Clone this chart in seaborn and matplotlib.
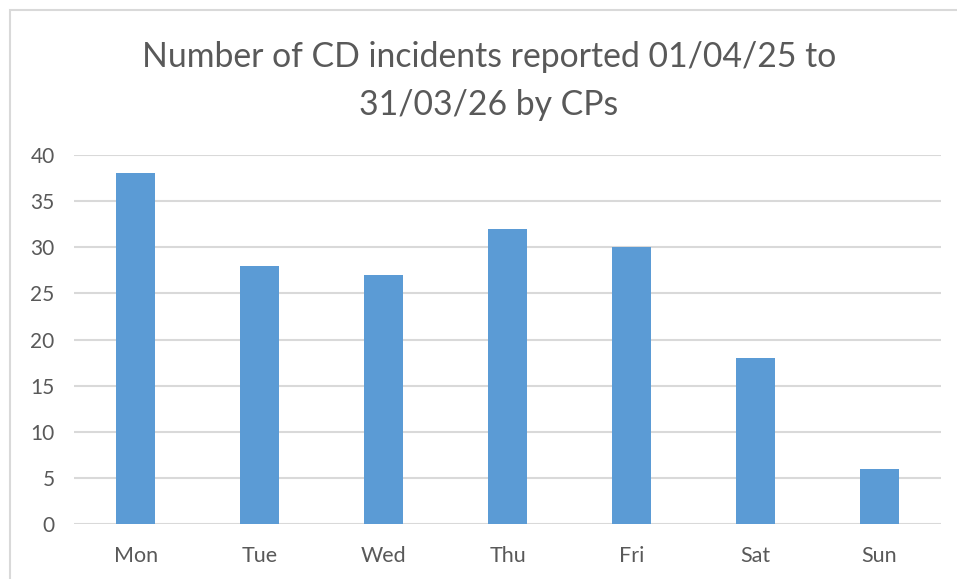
import pandas as pd
import seaborn as sns
import matplotlib.pyplot as plt
from matplotlib.patches import Rectangle

# DATA
days = ["Mon", "Tue", "Wed", "Thu", "Fri", "Sat", "Sun"]
incidents = [38, 28, 27, 32, 30, 18, 6]
title = "Number of CD incidents reported 01/04/25 to\n31/03/26 by CPs"

df = pd.DataFrame({"Day": days, "Incidents": incidents})

# STYLE
sns.set_theme(style="white")
plt.rcParams["font.family"] = ["Lato", "DejaVu Sans"]
grey = "#595959"

fig = plt.figure(figsize=(9.57, 5.79), dpi=100)
ax = fig.add_axes([74 / 957, 1 - 524 / 579, (941 - 74) / 957, (524 - 155) / 579])

sns.barplot(data=df, x="Day", y="Incidents", color="#5b9bd5",
            width=0.315, saturation=1, linewidth=0, ax=ax, zorder=3)

ax.set_ylim(0, 40)
ax.set_xlim(-0.5, len(days) - 0.5)
ax.set_yticks(range(0, 41, 5))
ax.yaxis.grid(True, color="#d9d9d9", linewidth=1.5, zorder=0)
ax.set_axisbelow(True)
for s in ax.spines.values():
    s.set_visible(False)
ax.tick_params(axis="both", length=0, labelsize=15.5, labelcolor=grey)
ax.tick_params(axis="y", pad=14)
ax.tick_params(axis="x", pad=16)
for lbl in ax.get_yticklabels():
    lbl.set_fontsize(15)
ax.set_xlabel("")
ax.set_ylabel("")

fig.text(489 / 957, 1 - 81 / 579, title, ha="center", va="center",
         fontsize=24.3, color=grey, linespacing=1.6)

# chart outline
fig.patches.append(Rectangle((10 / 957, -0.1), 1.2, 1 - 10 / 579 + 0.1,
                             transform=fig.transFigure, fill=False,
                             edgecolor="#d9d9d9", linewidth=1.5))

fig.savefig("out.png", dpi=100)
